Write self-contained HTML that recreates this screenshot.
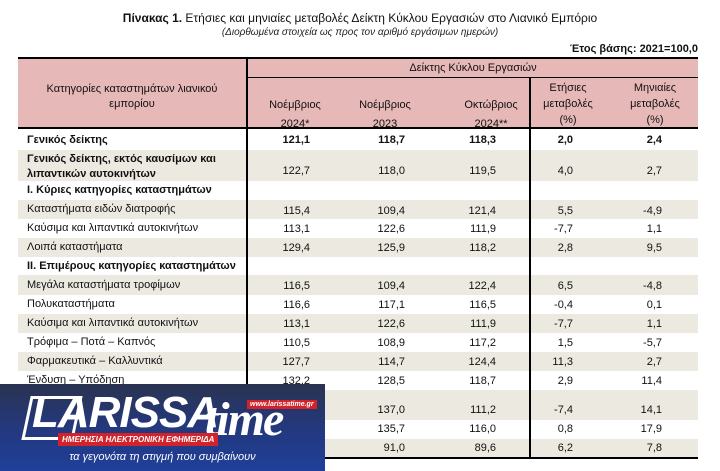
<!DOCTYPE html>
<html><head><meta charset="utf-8"><style>
*{margin:0;padding:0;box-sizing:border-box}
body{width:720px;height:471px;background:#fff;font-family:"Liberation Sans","DejaVu Sans",sans-serif;color:#111;position:relative;overflow:hidden;font-size:11px}
.a{position:absolute;white-space:nowrap}
.r{position:absolute;left:18px;width:680px}
.bg{background:#ece9e0}
.n{position:absolute;text-align:right;width:60px}
.b{font-weight:bold}
</style></head><body>
<div class="a" style="left:0;width:720px;top:11px;text-align:center;font-size:12px"><b>Πίνακας 1.</b> Ετήσιες και μηνιαίες μεταβολές Δείκτη Κύκλου Εργασιών στο Λιανικό Εμπόριο</div>
<div class="a" style="left:0;width:720px;top:27px;text-align:center;font-size:10px;font-style:italic;color:#222">(Διορθωμένα στοιχεία ως προς τον αριθμό εργάσιμων ημερών)</div>
<div class="a b" style="right:22px;top:43px;font-size:11px">Έτος βάσης: 2021=100,0</div>

<!-- header -->
<div class="a" style="left:18px;top:57px;width:680px;height:72px;background:#e6b8b7;border-top:2px solid #000;border-bottom:2px solid #000"></div>
<div class="a" style="left:246px;top:57px;width:2px;height:401px;background:#000"></div>
<div class="a" style="left:248px;top:77px;width:450px;height:1px;background:#000"></div>
<div class="a" style="left:529px;top:77px;width:2px;height:381px;background:#000"></div>
<div class="a" style="left:248px;width:450px;top:62px;text-align:center">Δείκτης Κύκλου Εργασιών</div>
<div class="a" style="left:18px;width:228px;top:82px;text-align:center;line-height:15px">Κατηγορίες καταστημάτων λιανικού<br>εμπορίου</div>
<div class="a" style="left:260px;width:70px;top:96px;text-align:center;line-height:19px">Νοέμβριος<br>2024*</div>
<div class="a" style="left:350px;width:70px;top:96px;text-align:center;line-height:19px">Νοέμβριος<br>2023</div>
<div class="a" style="left:456px;width:70px;top:96px;text-align:center;line-height:19px">Οκτώβριος<br>2024**</div>
<div class="a" style="left:533px;width:70px;top:80px;text-align:center;line-height:16px">Ετήσιες<br>μεταβολές<br>(%)</div>
<div class="a" style="left:620px;width:70px;top:80px;text-align:center;line-height:16px">Μηνιαίες<br>μεταβολές<br>(%)</div>

<!-- body bands -->
<div class="r bg" style="top:150px;height:31px"></div>
<div class="r bg" style="top:200px;height:19px"></div>
<div class="r bg" style="top:238px;height:19px"></div>
<div class="r bg" style="top:275px;height:20px"></div>
<div class="r bg" style="top:314px;height:19px"></div>
<div class="r bg" style="top:352px;height:19px"></div>
<div class="r bg" style="top:390px;height:30px"></div>
<div class="r bg" style="top:439px;height:19px"></div>
<div class="a" style="left:18px;top:457px;width:680px;height:2px;background:#000"></div>
<div class="a" style="left:246px;top:57px;width:2px;height:401px;background:#000"></div>
<div class="a" style="left:529px;top:129px;width:2px;height:329px;background:#000"></div>

<!-- labels -->
<div class="a b" style="left:27px;top:134px">Γενικός δείκτης</div>
<div class="a b" style="left:27px;top:152px;line-height:15px">Γενικός δείκτης, εκτός καυσίμων και<br>λιπαντικών αυτοκινήτων</div>
<div class="a b" style="left:27px;top:184px">Ι. Κύριες κατηγορίες καταστημάτων</div>
<div class="a" style="left:27px;top:203px">Καταστήματα ειδών διατροφής</div>
<div class="a" style="left:27px;top:222px">Καύσιμα και λιπαντικά αυτοκινήτων</div>
<div class="a" style="left:27px;top:241px">Λοιπά καταστήματα</div>
<div class="a b" style="left:27px;top:260px">ΙΙ. Επιμέρους κατηγορίες καταστημάτων</div>
<div class="a" style="left:27px;top:279px">Μεγάλα καταστήματα τροφίμων</div>
<div class="a" style="left:27px;top:298px">Πολυκαταστήματα</div>
<div class="a" style="left:27px;top:317px">Καύσιμα και λιπαντικά αυτοκινήτων</div>
<div class="a" style="left:27px;top:336px">Τρόφιμα – Ποτά – Καπνός</div>
<div class="a" style="left:27px;top:355px">Φαρμακευτικά – Καλλυντικά</div>
<div class="a" style="left:27px;top:374px">Ένδυση – Υπόδηση</div>
<div class="a" style="left:27px;top:392px;line-height:15px">Έπιπλα – Ηλεκτρικά είδη –<br>Οικιακός εξοπλισμός</div>
<div class="a" style="left:27px;top:423px">Βιβλία – Χαρτικά – Λοιπά είδη</div>
<div class="a" style="left:27px;top:442px">Ηλεκτρονικό εμπόριο</div>

<!-- numbers -->
<div id="nums"></div>
<div class="a b" style="top:134px;left:0;width:720px">
<span class="n" style="left:250px">121,1</span><span class="n" style="left:345px">118,7</span><span class="n" style="left:436px">118,3</span><span class="n" style="left:513px">2,0</span><span class="n" style="left:602px">2,4</span></div>
<div class="a" style="top:165px;left:0;width:720px">
<span class="n" style="left:250px">122,7</span><span class="n" style="left:345px">118,0</span><span class="n" style="left:436px">119,5</span><span class="n" style="left:513px">4,0</span><span class="n" style="left:602px">2,7</span></div>
<div class="a" style="top:205px;left:0;width:720px">
<span class="n" style="left:250px">115,4</span><span class="n" style="left:345px">109,4</span><span class="n" style="left:436px">121,4</span><span class="n" style="left:513px">5,5</span><span class="n" style="left:602px">-4,9</span></div>
<div class="a" style="top:223px;left:0;width:720px">
<span class="n" style="left:250px">113,1</span><span class="n" style="left:345px">122,6</span><span class="n" style="left:436px">111,9</span><span class="n" style="left:513px">-7,7</span><span class="n" style="left:602px">1,1</span></div>
<div class="a" style="top:242px;left:0;width:720px">
<span class="n" style="left:250px">129,4</span><span class="n" style="left:345px">125,9</span><span class="n" style="left:436px">118,2</span><span class="n" style="left:513px">2,8</span><span class="n" style="left:602px">9,5</span></div>
<div class="a" style="top:280px;left:0;width:720px">
<span class="n" style="left:250px">116,5</span><span class="n" style="left:345px">109,4</span><span class="n" style="left:436px">122,4</span><span class="n" style="left:513px">6,5</span><span class="n" style="left:602px">-4,8</span></div>
<div class="a" style="top:299px;left:0;width:720px">
<span class="n" style="left:250px">116,6</span><span class="n" style="left:345px">117,1</span><span class="n" style="left:436px">116,5</span><span class="n" style="left:513px">-0,4</span><span class="n" style="left:602px">0,1</span></div>
<div class="a" style="top:318px;left:0;width:720px">
<span class="n" style="left:250px">113,1</span><span class="n" style="left:345px">122,6</span><span class="n" style="left:436px">111,9</span><span class="n" style="left:513px">-7,7</span><span class="n" style="left:602px">1,1</span></div>
<div class="a" style="top:337px;left:0;width:720px">
<span class="n" style="left:250px">110,5</span><span class="n" style="left:345px">108,9</span><span class="n" style="left:436px">117,2</span><span class="n" style="left:513px">1,5</span><span class="n" style="left:602px">-5,7</span></div>
<div class="a" style="top:356px;left:0;width:720px">
<span class="n" style="left:250px">127,7</span><span class="n" style="left:345px">114,7</span><span class="n" style="left:436px">124,4</span><span class="n" style="left:513px">11,3</span><span class="n" style="left:602px">2,7</span></div>
<div class="a" style="top:375px;left:0;width:720px">
<span class="n" style="left:250px">132,2</span><span class="n" style="left:345px">128,5</span><span class="n" style="left:436px">118,7</span><span class="n" style="left:513px">2,9</span><span class="n" style="left:602px">11,4</span></div>
<div class="a" style="top:404px;left:0;width:720px">
<span class="n" style="left:250px">127,0</span><span class="n" style="left:345px">137,0</span><span class="n" style="left:436px">111,2</span><span class="n" style="left:513px">-7,4</span><span class="n" style="left:602px">14,1</span></div>
<div class="a" style="top:423px;left:0;width:720px">
<span class="n" style="left:250px">136,8</span><span class="n" style="left:345px">135,7</span><span class="n" style="left:436px">116,0</span><span class="n" style="left:513px">0,8</span><span class="n" style="left:602px">17,9</span></div>
<div class="a" style="top:442px;left:0;width:720px">
<span class="n" style="left:250px">97,1</span><span class="n" style="left:345px">91,0</span><span class="n" style="left:436px">89,6</span><span class="n" style="left:513px">6,2</span><span class="n" style="left:602px">7,8</span></div>

<!-- logo overlay -->
<div class="a" style="left:0;top:384px;width:325px;height:87px;background:linear-gradient(180deg,#2a3350 0%,#24387a 45%,#1f3f9a 100%)">
  <div class="a" style="left:26px;top:12px;width:52px;height:44px;border:3px solid #fff;transform:skewX(-12deg)"></div>
  <div class="a" style="left:32px;top:4px;font:italic bold 44px 'Liberation Sans',sans-serif;color:#fff;letter-spacing:-1px">LARISSA</div>
  <div class="a" style="left:205px;top:8px;font:italic bold 48px 'Liberation Serif',serif;color:#fff;letter-spacing:-2px">time</div>
  <div class="a" style="left:247px;top:16px;background:#d2232a;color:#fff;font:italic bold 7px 'Liberation Sans',sans-serif;padding:1px 3px">www.larissatime.gr</div>
  <div class="a" style="left:58px;top:49px;background:#d2232a;color:#fff;font:italic bold 8px 'Liberation Sans',sans-serif;padding:2px 4px">ΗΜΕΡΗΣΙΑ ΗΛΕΚΤΡΟΝΙΚΗ ΕΦΗΜΕΡΙΔΑ</div>
  <div class="a" style="left:0;width:325px;top:67px;text-align:center;color:#fff;font:italic 11px 'Liberation Sans',sans-serif">τα γεγονότα τη στιγμή που συμβαίνουν</div>
</div>
</body></html>
